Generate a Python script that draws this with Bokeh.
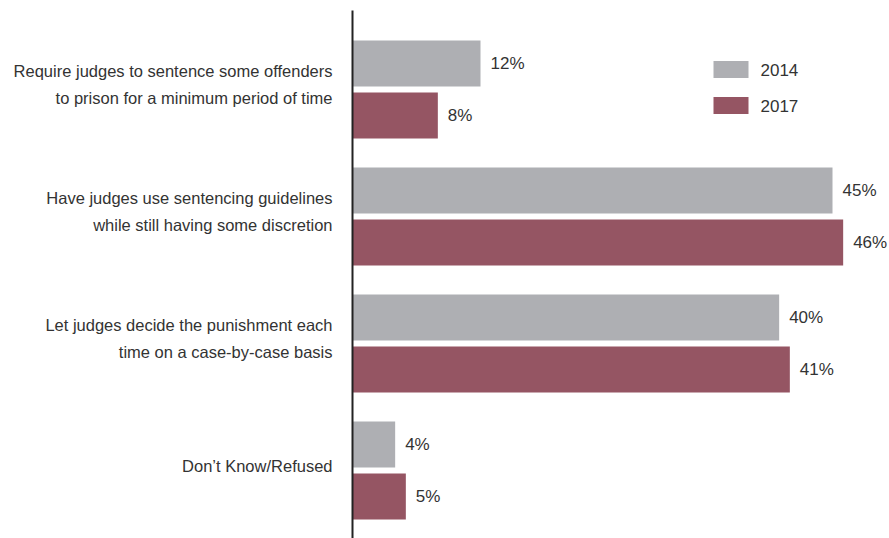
from bokeh.plotting import figure
from bokeh.models import Range1d
from bokeh.core.properties import value
from bokeh.embed import file_html
from bokeh.resources import INLINE

categories = [
    "Require judges to sentence some offenders\nto prison for a minimum period of time",
    "Have judges use sentencing guidelines\nwhile still having some discretion",
    "Let judges decide the punishment each\ntime on a case-by-case basis",
    "Don\u2019t Know/Refused",
]
values_2014 = [12, 45, 40, 4]
values_2017 = [8, 46, 41, 5]
series_names = ["2014", "2017"]

COL_2014 = "#aeafb3"
COL_2017 = "#955563"
TXT = "#333333"
FONT = "Liberation Sans"

W, H = 889, 538
ZERO_PX = 352
PX = 480 / 45.0  # pixels per percentage point

p = figure(width=W, height=H, output_backend="svg", toolbar_location=None,
           min_border=0, x_range=Range1d(-ZERO_PX / PX, (W - ZERO_PX) / PX),
           y_range=Range1d(H, 0))
p.axis.visible = False
p.grid.visible = False
p.outline_line_color = None
p.background_fill_color = "white"
p.border_fill_color = "white"

G0, GSTEP, OFF, BH = 89, 127, 26, 46
centers = [G0 + GSTEP * i for i in range(len(categories))]
y14 = [c - OFF for c in centers]
y17 = [c + OFF for c in centers]

p.hbar(y=y14, right=values_2014, left=0, height=BH, fill_color=COL_2014, line_color=None)
p.hbar(y=y17, right=values_2017, left=0, height=BH, fill_color=COL_2017, line_color=None)

# axis line
p.segment(x0=[0], y0=[10], x1=[0], y1=[H], line_color="#222222", line_width=2)

lab_off = 10 / PX
p.text(x=[v + lab_off for v in values_2014], y=y14, text=[f"{v}%" for v in values_2014],
       text_font=value(FONT), text_font_size="17px", text_color=TXT,
       text_align="left", text_baseline="middle")
p.text(x=[v + lab_off for v in values_2017], y=y17, text=[f"{v}%" for v in values_2017],
       text_font=value(FONT), text_font_size="17px", text_color=TXT,
       text_align="left", text_baseline="middle")

p.text(x=[-20 / PX] * len(categories), y=[c - 5 for c in centers], text=categories,
       text_font=value(FONT), text_font_size="16.5px", text_color=TXT,
       text_align="right", text_baseline="middle", text_line_height=1.5)

# legend
LX0 = (713 - ZERO_PX) / PX
LX1 = (748 - ZERO_PX) / PX
LTX = (760 - ZERO_PX) / PX
ly = [69, 105]
p.quad(left=[LX0] * 2, right=[LX1] * 2, top=[y - 8.5 for y in ly], bottom=[y + 8.5 for y in ly],
       fill_color=[COL_2014, COL_2017], line_color=None)
p.text(x=[LTX] * 2, y=ly, text=series_names, text_font=value(FONT), text_font_size="17px",
       text_color=TXT, text_align="left", text_baseline="middle")

open("out.html", "w").write(file_html(p, INLINE))
